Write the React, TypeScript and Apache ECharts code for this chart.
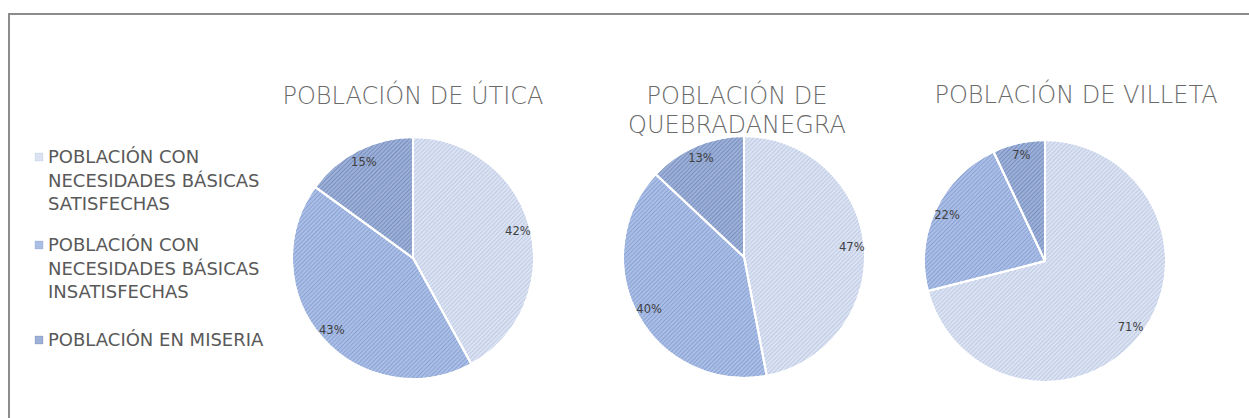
import React, { useEffect, useRef } from "react";
import * as echarts from "echarts";

const categories = [
  "POBLACIÓN CON\nNECESIDADES BÁSICAS\nSATISFECHAS",
  "POBLACIÓN CON\nNECESIDADES BÁSICAS\nINSATISFECHAS",
  "POBLACIÓN EN MISERIA",
];
const cityTitles = ["POBLACIÓN DE ÚTICA", "POBLACIÓN DE\nQUEBRADANEGRA", "POBLACIÓN DE VILLETA"];
const uticaValues = [42, 43, 15];
const quebradanegraValues = [47, 40, 13];
const villetaValues = [71, 22, 7];
const allValues = [uticaValues, quebradanegraValues, villetaValues];

const sliceColors = ["#dbe2f2", "#abbfe6", "#9cb0d8"];
const hatchColors = ["rgba(150,170,210,0.4)", "rgba(90,120,185,0.4)", "rgba(70,95,150,0.4)"];

const pieCenters = [
  [413, 258],
  [744, 257],
  [1045, 261],
];
const pieRadius = 121;
const titleCenters = [
  [408, 90],
  [732, 90],
  [1071, 89],
];

export default function App() {
  const ref = useRef<HTMLDivElement>(null);
  useEffect(() => {
    if (!ref.current) return;
    const chart = echarts.init(ref.current, null, { renderer: "svg" });

    const series: any[] = [];
    allValues.forEach((vals, ci) => {
      const data = vals.map((v, i) => ({
        name: categories[i],
        value: v,
        itemStyle: {
          color: sliceColors[i],
          decal: {
            symbol: "rect",
            symbolSize: 1,
            dashArrayX: [1, 0],
            dashArrayY: [1, 2],
            rotation: -Math.PI / 4,
            color: hatchColors[i],
          },
        },
      }));
      series.push({
        type: "pie",
        center: pieCenters[ci],
        radius: [0, pieRadius],
        startAngle: 90,
        clockwise: true,
        silent: true,
        label: { show: false },
        labelLine: { show: false },
        itemStyle: { borderColor: "#ffffff", borderWidth: 2 },
        data,
      });
      series.push({
        type: "pie",
        center: pieCenters[ci],
        radius: [pieRadius * 0.74, pieRadius],
        startAngle: 90,
        clockwise: true,
        silent: true,
        itemStyle: { color: "transparent", borderWidth: 0 },
        label: {
          show: true,
          position: "inside",
          formatter: "{c}%",
          color: "#404040",
          fontSize: 11.5,
          fontFamily: "DejaVu Sans",
        },
        labelLine: { show: false },
        data: vals.map((v, i) => ({ name: categories[i], value: v })),
      });
    });

    const legendGraphics: any[] = [];
    const legendTops = [157, 245, 340];
    categories.forEach((c, i) => {
      legendGraphics.push({
        type: "rect",
        shape: { x: 35, y: legendTops[i] - 4, width: 8, height: 8 },
        style: { fill: sliceColors[i], stroke: hatchColors[i], lineWidth: 0.5 },
      });
      legendGraphics.push({
        type: "text",
        x: 48,
        y: legendTops[i] - 12,
        style: {
          text: c,
          fill: "#595959",
          fontSize: 18,
          lineHeight: 23.5,
          fontFamily: "DejaVu Sans",
          textVerticalAlign: "top",
        },
      });
    });

    chart.setOption({
      animation: false,
      backgroundColor: "#ffffff",
      title: cityTitles.map((t, i) => ({
        text: t,
        left: titleCenters[i][0],
        top: titleCenters[i][1] - 14,
        textAlign: "center",
        textStyle: {
          color: "#6a6a6a",
          fontSize: 24,
          fontWeight: 200,
          lineHeight: 29,
          fontFamily: "DejaVu Sans",
        },
      })),
      graphic: [
        {
          type: "polyline",
          shape: { points: [[9, 420], [9, 14], [1260, 14]] },
          style: { stroke: "#8c8c8c", lineWidth: 2, fill: "none" },
        },
        ...legendGraphics,
      ],
      series,
    });
    return () => chart.dispose();
  }, []);
  return (
    <div
      ref={ref}
      style={{ position: "fixed", left: 0, top: 0, width: 1249, height: 418 }}
    />
  );
}
